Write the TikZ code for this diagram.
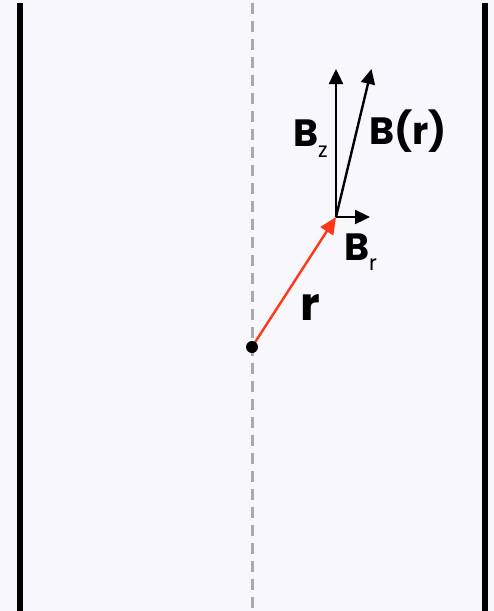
\documentclass[tikz,border=0pt]{standalone}
\usepackage{fontspec}
\setmainfont{Poppins}
\usetikzlibrary{arrows.meta}
\definecolor{bgc}{RGB}{248,248,252}
\definecolor{redvec}{RGB}{255,55,20}
\definecolor{dashgray}{RGB}{170,170,170}
\begin{document}
\begin{tikzpicture}[x=1pt,y=-1pt,
  wall/.style={line width=6pt,black},
  axisline/.style={line width=3pt,dashgray,dash pattern=on 10.5pt off 7.5pt},
  vec/.style={line width=2.4pt,black,-{Triangle[length=15pt,width=14pt]}},
  rvec/.style={line width=2.4pt,redvec,-{Triangle[length=17pt,width=15pt]}},
  lab/.style={inner sep=0pt,anchor=base west,font=\fontsize{38}{38}\selectfont\bfseries}]
\fill[bgc] (0,0) rectangle (494,611);
\useasboundingbox (0,0) rectangle (494,611);
% walls
\coordinate (wlt) at (19.5,3);
\coordinate (wlb) at (19.5,611);
\coordinate (wrt) at (485,3);
\coordinate (wrb) at (485,611);
\draw[wall] (wlt) -- (wlb);
\draw[wall] (wrt) -- (wrb);
% axis
\coordinate (at) at (252,3);
\coordinate (ab) at (252,611);
\draw[axisline] (at) -- (ab);
% points
\coordinate (P) at (252,347);
\coordinate (O) at (336,217);
\coordinate (zt) at (336,69);
\coordinate (bt) at (371.5,69);
\coordinate (rt) at (370,217);
% vectors
\draw[rvec] (P) -- (O);
\draw[vec] (O) -- (zt);
\draw[vec] (O) -- (bt);
\draw[vec] (O) -- (rt);
\fill[black] (P) circle (6pt);
% labels
\node[lab] (lz) at (293,146) {B\raisebox{-11pt}{\fontsize{21}{21}\selectfont\mdseries z}};
\node[lab] (lb) at (369,144) {B(r)};
\node[lab] (lr) at (344,260) {B\raisebox{-10pt}{\fontsize{21}{21}\selectfont\mdseries r}};
\node[lab,font=\fontsize{46}{46}\selectfont\bfseries] (lrr) at (300,320) {r};
\end{tikzpicture}
\end{document}
